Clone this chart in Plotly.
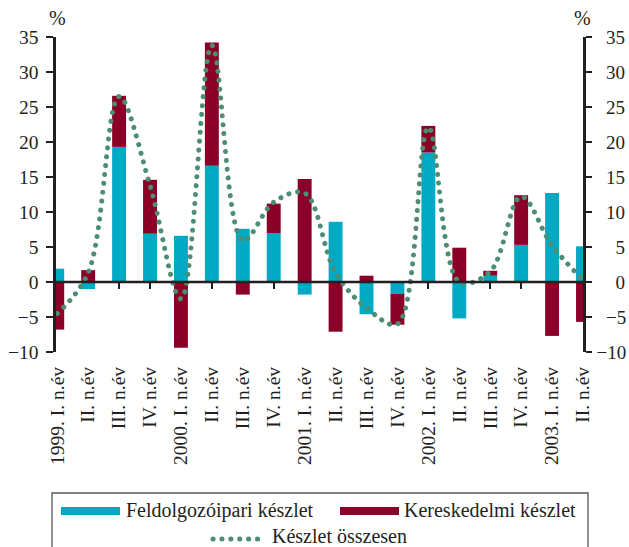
import plotly.graph_objects as go

# ---- data ----
labels = ["1999. I. n.év", "II. n.év", "III. n.év", "IV. n.év",
          "2000. I. n.év", "II. n.év", "III. n.év", "IV. n.év",
          "2001. I. n.év", "II. n.év", "III. n.év", "IV. n.év",
          "2002. I. n.év", "II. n.év", "III. n.év", "IV. n.év",
          "2003. I. n.év", "II. n.év"]
feldolgozoipari = [1.9, -1.0, 19.3, 6.9, 6.6, 16.6, 7.6, 7.0, -1.8,
                   8.6, -4.6, -1.7, 18.5, -5.2, 0.9, 5.3, 12.7, 5.1]
kereskedelmi = [-6.8, 1.7, 7.3, 7.7, -9.4, 17.6, -1.8, 4.2, 14.7,
                -7.1, 0.9, -4.4, 3.8, 4.9, 0.7, 7.1, -7.7, -5.7]
osszesen = [-4.5, 1.3, 26.5, 13.8, -2.4, 33.8, 5.9, 11.4, 12.7,
            1.3, -3.7, -6.0, 22.1, 0.0, 1.5, 12.2, 5.2, 0.3]
y_ticks = [-10, -5, 0, 5, 10, 15, 20, 25, 30, 35]

names = ["Feldolgozóipari készlet", "Kereskedelmi készlet", "Készlet összesen"]

CYAN = "rgb(0,169,196)"
RED = "rgb(139,0,40)"
GREEN = "rgb(77, 142, 115)"
INK = "#231f20"
FONT = "Liberation Serif"

W, H = 629, 547
ML, MR, MT, MB = 56, 46, 37, 195
PW, PH = W - ML - MR, H - MT - MB

x = list(range(len(labels)))
xr = [-0.04, len(labels) - 1]
yr = [y_ticks[0], y_ticks[-1]]

fig = go.Figure()
fig.add_trace(go.Bar(x=x, y=feldolgozoipari, name=names[0], marker_color=CYAN,
                     marker_line_width=0, showlegend=False))
fig.add_trace(go.Bar(x=x, y=kereskedelmi, name=names[1], marker_color=RED,
                     marker_line_width=0, showlegend=False))
fig.add_trace(go.Scatter(x=x, y=osszesen, name=names[2], mode="lines",
                         line=dict(color=GREEN, width=5, dash="5px,4px",
                                   shape="spline", smoothing=1.0),
                         xaxis="x2", yaxis="y2", showlegend=False))


def fmt(v):
    s = str(abs(v))
    return ("\u2212" + s) if v < 0 else s


def pad(t, n):
    return "\u2007" * n + t


widest = max(len(fmt(v)) for v in y_ticks)
right_text = [pad(fmt(v), widest - len(fmt(v))) for v in y_ticks]

zero_pos = (0 - yr[0]) / (yr[1] - yr[0])

fig.update_layout(
    width=W, height=H,
    margin=dict(l=ML, r=MR, t=MT, b=MB, pad=0),
    paper_bgcolor="white", plot_bgcolor="white",
    barmode="relative", bargap=0.55,
    font=dict(family=FONT, size=19, color=INK),
    xaxis=dict(range=xr, tickvals=x, showticklabels=False,
               anchor="free", position=zero_pos, automargin=False,
               ticks="outside", ticklen=6, tickwidth=2.2, tickcolor=INK,
               showline=False, showgrid=False, zeroline=False,
               layer="below traces"),
    xaxis2=dict(range=xr, overlaying="x", anchor="y2", side="bottom",
                tickvals=x, ticktext=labels, tickangle=-90, automargin=False,
                ticks="", showline=False, showgrid=False, zeroline=False,
                ticklabelstandoff=10,
                tickfont=dict(family=FONT, size=19.5, color=INK)),
    yaxis=dict(range=yr, tickvals=y_ticks, ticktext=[fmt(v) for v in y_ticks],
               ticks="outside", ticklen=7, tickwidth=2.5, tickcolor=INK,
               showline=True, linewidth=2.7, linecolor=INK, automargin=False,
               showgrid=False, zeroline=False, ticklabelstandoff=4,
               tickfont=dict(family=FONT, size=19.5, color=INK)),
    yaxis2=dict(range=yr, overlaying="y", anchor="x2", side="right",
                tickvals=y_ticks, ticktext=right_text, automargin=False,
                ticks="outside", ticklen=6, tickwidth=2.5, tickcolor=INK,
                showline=True, linewidth=2.7, linecolor=INK,
                showgrid=False, zeroline=False, ticklabelstandoff=1,
                tickfont=dict(family=FONT, size=19, color=INK)),
)


def px_x(p):
    return (p - ML) / PW


def px_y(p):
    return (H - MB - p) / PH


shapes = [
    # zero line above bars
    dict(type="line", xref="paper", yref="y", x0=0, x1=1, y0=0, y1=0,
         line=dict(color=INK, width=2.6), layer="above"),
    # legend box
    dict(type="rect", xref="paper", yref="paper",
         x0=px_x(52), x1=px_x(588), y0=px_y(560), y1=px_y(493),
         line=dict(color="#555555", width=1.3), fillcolor="rgba(0,0,0,0)"),
    dict(type="rect", xref="paper", yref="paper",
         x0=px_x(61), x1=px_x(120), y0=px_y(515), y1=px_y(507),
         line=dict(width=0), fillcolor=CYAN),
    dict(type="rect", xref="paper", yref="paper",
         x0=px_x(340), x1=px_x(399), y0=px_y(515), y1=px_y(507),
         line=dict(width=0), fillcolor=RED),
    dict(type="line", xref="paper", yref="paper",
         x0=px_x(213), x1=px_x(266), y0=px_y(539), y1=px_y(539),
         line=dict(color=GREEN, width=5, dash="5px,4px")),
]
fig.update_layout(shapes=shapes)

annotations = [
    dict(text=names[0], x=px_x(125), y=px_y(510), xanchor="left", yanchor="middle"),
    dict(text=names[1], x=px_x(403), y=px_y(510), xanchor="left", yanchor="middle"),
    dict(text=names[2], x=px_x(271), y=px_y(536), xanchor="left", yanchor="middle"),
    dict(text="%", x=px_x(57), y=px_y(18), xanchor="center", yanchor="middle"),
    dict(text="%", x=px_x(582), y=px_y(18), xanchor="center", yanchor="middle"),
]
for a in annotations:
    a.update(xref="paper", yref="paper", showarrow=False, borderpad=0,
             font=dict(family=FONT, size=20, color=INK))
fig.update_layout(annotations=annotations)

post = """
document.body.style.margin = '0';
document.body.style.overflow = 'hidden';
function fixDots(){
  document.querySelectorAll('path').forEach(function(p){
    var s = (p.style.stroke || '').replace(/\\s/g, '');
    if (s === 'rgb(77,142,115)') {
      p.style.strokeLinecap = 'round';
      p.style.strokeDasharray = '0.1px,8.8px';
    }
  });
}
fixDots();
setTimeout(fixDots, 50);
"""

fig.write_html("out.html", post_script=post,
               config={"displayModeBar": False, "staticPlot": True})
